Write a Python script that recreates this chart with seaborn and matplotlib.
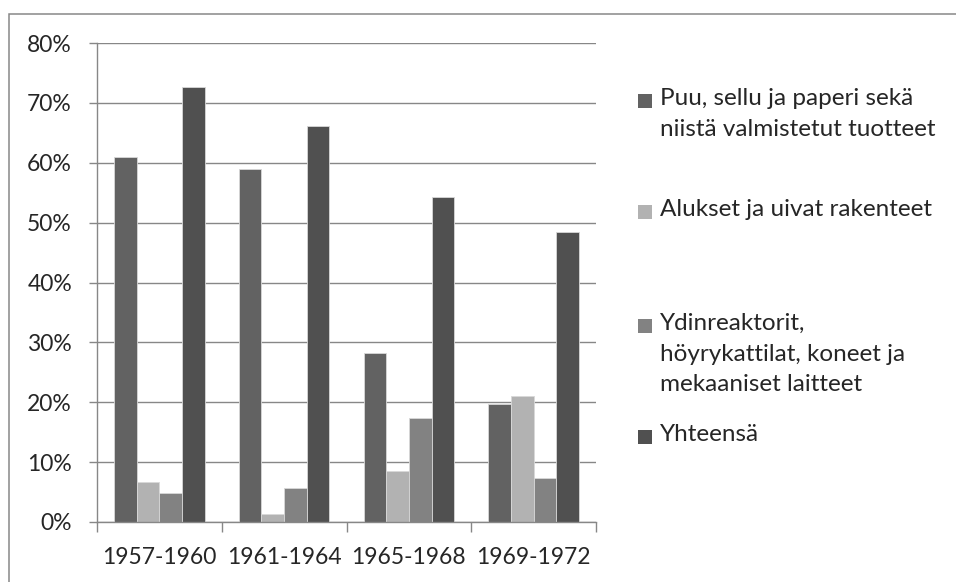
import pandas as pd
import seaborn as sns
import matplotlib.pyplot as plt
from matplotlib.patches import Rectangle
from matplotlib.ticker import FixedLocator, FuncFormatter

# data (percent)
periods = ['1957-1960', '1961-1964', '1965-1968', '1969-1972']
series = [
    'Puu, sellu ja paperi sekä\nniistä valmistetut tuotteet',
    'Alukset ja uivat rakenteet',
    'Ydinreaktorit,\nhöyrykattilat, koneet ja\nmekaaniset laitteet',
    'Yhteensä',
]
puu = [60.9, 59.0, 28.2, 19.7]
alukset = [6.6, 1.3, 8.5, 21.0]
ydin = [4.8, 5.6, 17.3, 7.3]
yhteensa = [72.6, 66.1, 54.3, 48.4]
colors = ['#626262', '#b2b2b2', '#828282', '#505050']

rows = []
for name, vals in zip(series, [puu, alukset, ydin, yhteensa]):
    for p, v in zip(periods, vals):
        rows.append({'Period': p, 'Series': name, 'Value': v})
df = pd.DataFrame(rows)

sns.set_style('white')
plt.rcParams['font.family'] = ['Lato', 'DejaVu Sans']

W, H = 956, 582
fig = plt.figure(figsize=(W / 100, H / 100), dpi=100)
ax = fig.add_axes([97 / W, 1 - 522 / H, (596 - 97) / W, (522 - 43) / H])

sns.barplot(data=df, x='Period', y='Value', hue='Series', order=periods,
            hue_order=series, palette=colors, width=0.727, ax=ax,
            edgecolor='#d8d8d8', linewidth=0.6, legend=False, saturation=1)

grid_c = '#878787'
ax.set_ylim(0, 80)
ax.set_xlim(-0.5, 3.5)
ax.set_yticks(range(0, 81, 10))
ax.yaxis.set_major_formatter(FuncFormatter(lambda v, _: f'{int(v)}%'))
ax.yaxis.grid(True, color=grid_c, linewidth=1.0)
ax.set_axisbelow(True)
ax.set_xlabel('')
ax.set_ylabel('')

for s in ['top', 'right']:
    ax.spines[s].set_visible(False)
for s in ['left', 'bottom']:
    ax.spines[s].set_color(grid_c)
    ax.spines[s].set_linewidth(1.0)

ax.xaxis.set_minor_locator(FixedLocator([-0.5, 0.5, 1.5, 2.5, 3.5]))
ax.tick_params(axis='x', which='major', length=0, pad=18, labelsize=16.5)
ax.tick_params(axis='x', which='minor', length=7, width=1.0, color=grid_c,
               direction='out', bottom=True)
ax.tick_params(axis='y', length=6, width=1.0, color=grid_c, direction='out',
               pad=12, labelsize=16.5, left=True)

# outer chart border
fig.add_artist(Rectangle((8.5 / W, -0.1), 1.2, 1 - 13.5 / H + 0.1,
                         transform=fig.transFigure, fill=False,
                         edgecolor=grid_c, linewidth=1.1, clip_on=False))

# legend, laid out like the original
leg_y = [101, 212, 326, 437]
for name, col, y in zip(series, colors, leg_y):
    fig.add_artist(Rectangle((638 / W, 1 - (y + 7) / H), 14 / W, 14 / H,
                             transform=fig.transFigure, facecolor=col,
                             edgecolor='none'))
    fig.text(660 / W, 1 - (y - 13) / H, name, ha='left', va='top',
             fontsize=17.5, linespacing=1.56)

fig.savefig('out.png', dpi=100)
